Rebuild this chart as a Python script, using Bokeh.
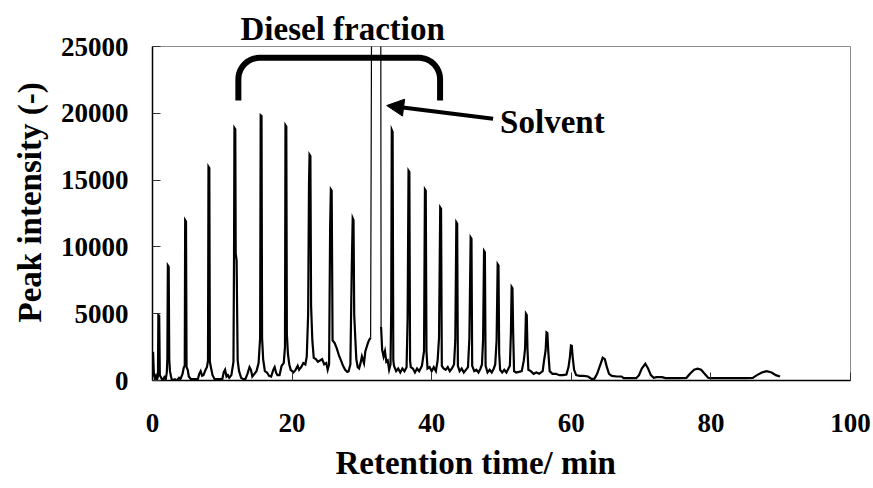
import numpy as np
from bokeh.plotting import figure
from bokeh.models import Range1d, FixedTicker, Label, Arrow, NormalHead, Title
from bokeh.embed import file_html
from bokeh.resources import INLINE

# ---- data ----
time_min = [
    0.0, 0.08, 0.2, 0.35, 0.5, 0.65, 0.78, 0.84, 0.96, 1.05,
    1.3, 1.5, 1.7, 1.9, 2.05, 2.13, 2.2, 2.32, 2.4, 2.5,
    2.65, 2.8, 3.2, 3.5, 3.8, 4.0, 4.3, 4.5, 4.62, 4.68,
    4.8, 4.88, 5.05, 5.2, 5.5, 6.0, 6.5, 6.7, 6.9, 7.1,
    7.3, 7.6, 7.8, 7.95, 8.02, 8.14, 8.22, 8.4, 8.6, 8.9,
    9.5, 10.0, 10.2, 10.4, 10.6, 10.8, 11.0, 11.3, 11.6, 11.68,
    11.74, 11.86, 11.92, 12.05, 12.2, 12.4, 12.7, 13.0, 13.3, 13.6,
    13.9, 14.1, 14.3, 14.6, 14.9, 15.2, 15.42, 15.5, 15.62, 15.7,
    15.85, 16.1, 16.4, 16.7, 17.0, 17.3, 17.5, 17.7, 17.9, 18.2,
    18.5, 18.8, 18.98, 19.05, 19.17, 19.25, 19.4, 19.6, 19.8, 20.2,
    20.5, 20.8, 21.0, 21.3, 21.6, 21.9, 22.1, 22.3, 22.42, 22.5,
    22.62, 22.72, 22.9, 23.1, 23.4, 23.7, 24.0, 24.3, 24.6, 24.9,
    25.1, 25.3, 25.45, 25.55, 25.67, 25.8, 26.1, 26.4, 26.7, 27.0,
    27.3, 27.6, 27.9, 28.1, 28.35, 28.55, 28.68, 28.8, 28.9, 29.05,
    29.2, 29.4, 29.6, 29.8, 30.0, 30.3, 30.5, 30.8, 31.0, 31.25,
    31.4, 32.7, 32.75, 32.9, 33.1, 33.3, 33.5, 33.7, 33.9, 34.1,
    34.2, 34.28, 34.4, 34.5, 34.6, 34.9, 35.2, 35.5, 35.8, 36.1,
    36.4, 36.55, 36.68, 36.8, 36.9, 37.0, 37.3, 37.6, 37.9, 38.2,
    38.6, 38.9, 39.03, 39.15, 39.25, 39.4, 39.7, 40.0, 40.3, 40.6,
    40.85, 41.05, 41.22, 41.34, 41.45, 41.7, 42.0, 42.3, 42.6, 42.9,
    43.2, 43.38, 43.53, 43.65, 43.75, 44.0, 44.3, 44.6, 44.9, 45.2,
    45.4, 45.58, 45.7, 45.8, 46.1, 46.4, 46.7, 47.0, 47.2, 47.36,
    47.5, 47.62, 47.72, 48.0, 48.3, 48.6, 48.9, 49.1, 49.3, 49.45,
    49.57, 49.67, 49.8, 50.1, 50.4, 50.7, 51.0, 51.2, 51.35, 51.45,
    51.57, 51.67, 51.8, 52.1, 52.5, 52.9, 53.2, 53.38, 53.5, 53.62,
    53.72, 53.85, 54.2, 54.6, 55.0, 55.4, 55.9, 56.1, 56.32, 56.45,
    56.57, 56.7, 56.9, 57.3, 57.8, 58.3, 58.8, 59.3, 59.6, 59.8,
    59.95, 60.07, 60.2, 60.4, 60.7, 61.2, 61.8, 62.4, 62.9, 63.3,
    63.7, 64.1, 64.5, 64.8, 65.1, 65.4, 65.8, 66.5, 67.2, 67.5,
    68.5, 69.3, 69.7, 70.1, 70.6, 71.0, 71.4, 71.8, 72.2, 73.0,
    73.5, 75.5, 76.5, 77.0, 77.6, 78.1, 78.6, 79.1, 79.6, 80.0,
    85.0, 86.0, 86.6, 87.3, 88.0, 88.7, 89.3, 89.9,
]
intensity = [
    300, 2150, 500, 150, 350, 100, 300, 4900, 4850, 400,
    150, 0, 250, 100, 600, 1650, 8600, 8500, 1600, 700,
    300, 0, 100, 0, 200, 100, 500, 1000, 1100, 12000,
    11900, 1000, 800, 300, 100, 100, 100, 500, 700, 350,
    400, 800, 1000, 1500, 16000, 15900, 1400, 900, 400, 100,
    100, 100, 600, 800, 300, 400, 200, 400, 1400, 9300,
    18900, 18800, 9500, 9000, 1500, 700, 200, 100, 100, 500,
    1000, 800, 300, 500, 700, 1300, 3200, 19850, 19800, 3200,
    1600, 700, 600, 350, 300, 800, 1000, 600, 400, 400,
    1100, 1300, 2500, 19100, 19000, 3500, 2000, 1200, 800, 600,
    800, 1100, 800, 1000, 1300, 1200, 1800, 5000, 14700, 16900,
    16800, 5600, 3000, 1700, 1600, 1400, 1500, 1600, 1200, 1300,
    800, 1200, 11500, 14300, 14200, 3000, 2800, 2400, 1900, 1500,
    1100, 800, 650, 700, 1200, 8500, 12150, 12000, 4900, 3200,
    1600, 1000, 900, 1300, 1800, 1300, 2200, 2700, 3000, 3200,
    30000, 30000, 4000, 2300, 1800, 2200, 1400, 1500, 800, 1200,
    5200, 18750, 18600, 1500, 1100, 700, 900, 600, 900, 700,
    1000, 4700, 15700, 15600, 1500, 1000, 900, 600, 900, 700,
    1100, 2200, 14300, 14200, 2200, 900, 1000, 700, 1000, 700,
    1500, 3200, 12950, 12850, 1100, 900, 800, 1000, 700, 900,
    1200, 3000, 11850, 11750, 1100, 700, 900, 600, 800, 1000,
    3200, 10700, 10600, 1100, 700, 800, 600, 900, 1200, 3000,
    9700, 9600, 1100, 600, 800, 600, 900, 1200, 3000, 8700,
    8600, 2000, 800, 600, 800, 600, 900, 1100, 3600, 7000,
    6900, 3600, 700, 600, 650, 700, 1500, 2400, 5000, 4900,
    2400, 800, 700, 500, 600, 500, 700, 1500, 2250, 3600,
    3550, 2200, 700, 500, 500, 400, 400, 450, 1000, 1750,
    2620, 2600, 1750, 800, 400, 350, 350, 300, 120, 120,
    500, 1100, 1700, 1600, 1000, 500, 350, 300, 300, 175,
    175, 175, 400, 900, 1250, 900, 400, 200, 250, 250,
    175, 175, 200, 500, 800, 880, 800, 500, 200, 175,
    175, 200, 400, 600, 700, 600, 400, 300,
]
assert len(time_min) == len(intensity)

x_ticks = [0, 20, 40, 60, 80, 100]
y_ticks = [0, 5000, 10000, 15000, 20000, 25000]
x_label = "Retention time/ min"
y_label = "Peak intensity (-)"
title_text = "Diesel fraction"

# solvent peak (drawn thinner) spans these retention times
solvent_from, solvent_to = 31.25, 32.75

# annotation anchors (data units)
bracket_x = [12.3, 41.2]
bracket_y = [20960, 24150]
solvent_arrow = dict(x_start=48.8, y_start=19590, x_end=33.55, y_end=20580)
solvent_text = dict(x=49.8, y=19330, text="Solvent")

FONT = "Liberation Serif"

p = figure(width=873, height=488, output_backend="svg", toolbar_location=None,
           x_range=Range1d(0, 100), y_range=Range1d(0, 25000),
           min_border_left=152, min_border_right=23, min_border_top=46, min_border_bottom=108)
p.background_fill_color = "white"
p.border_fill_color = "white"
p.outline_line_color = "#8c8c8c"
p.outline_line_width = 1
p.xgrid.visible = False
p.ygrid.visible = False

p.title.text = title_text
p.title.align = "left"
p.title.offset = 88
p.title.standoff = 0
p.title.text_font = FONT
p.title.text_font_style = "bold"
p.title.text_font_size = "33px"
p.title.text_color = "black"

i0 = time_min.index(solvent_from)
i1 = time_min.index(solvent_to)
p.line(time_min[:i0 + 1], intensity[:i0 + 1], line_color="black", line_width=2.2, line_join="miter")
p.line(time_min[i0:i1 + 1], intensity[i0:i1 + 1], line_color="black", line_width=1.2)
p.line(time_min[i1:], intensity[i1:], line_color="black", line_width=2.2, line_join="miter")

for ax in (p.xaxis[0], p.yaxis[0]):
    ax.axis_line_color = "black"
    ax.axis_line_width = 1.5
    ax.major_tick_in = 8
    ax.major_tick_out = 0
    ax.minor_tick_in = 0
    ax.minor_tick_out = 0
    ax.major_tick_line_color = "#333333"
    ax.major_label_text_font = FONT
    ax.major_label_text_font_style = "bold"
    ax.major_label_text_font_size = "27px"
    ax.major_label_text_color = "black"

p.xaxis.ticker = FixedTicker(ticks=x_ticks)
p.yaxis.ticker = FixedTicker(ticks=y_ticks)
p.xaxis.major_label_standoff = 33
p.yaxis.major_label_standoff = 24

# axis titles, placed off-centre like the original
xt = Title(text=x_label, align="left", offset=183, standoff=16, text_font=FONT,
           text_font_style="bold", text_font_size="33px", text_color="black")
yt = Title(text=y_label, align="left", offset=58, standoff=19, text_font=FONT,
           text_font_style="bold", text_font_size="33px", text_color="black")
p.add_layout(xt, "below")
p.add_layout(yt, "left")

# bracket over the diesel fraction (rounded corners)
rx, ry = 3.0, 1600
t = np.linspace(0, np.pi / 2, 12)
bx = ([bracket_x[0]] + list(bracket_x[0] + rx - rx * np.cos(t)) +
      list(bracket_x[1] - rx + rx * np.sin(t)) + [bracket_x[1]])
by = ([bracket_y[0]] + list(bracket_y[1] - ry + ry * np.sin(t)) +
      list(bracket_y[1] - ry + ry * np.cos(t)) + [bracket_y[0]])
p.line(bx, by, line_color="black", line_width=6, line_join="round", line_cap="butt")

p.add_layout(Arrow(end=NormalHead(size=17, fill_color="black", line_color="black"),
                   line_width=4, line_color="black", **solvent_arrow))

p.add_layout(Label(text_font=FONT, text_font_style="bold", text_font_size="33px",
                   text_align="left", text_baseline="middle", text_color="black", **solvent_text))

open("out.html", "w").write(file_html(p, INLINE))
